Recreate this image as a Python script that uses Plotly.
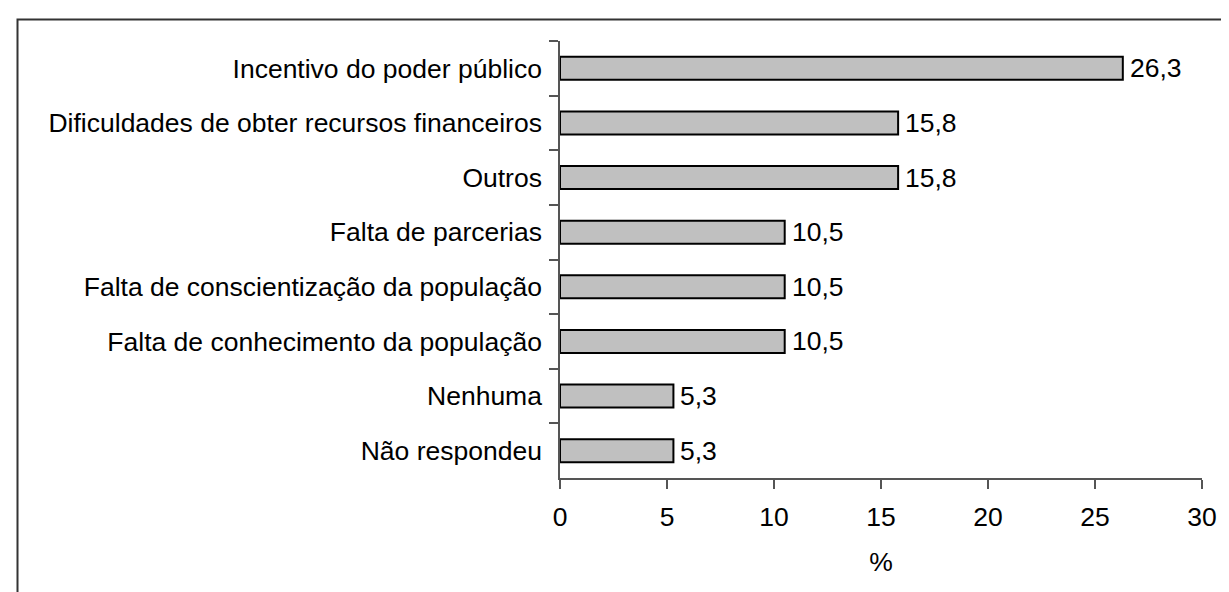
import plotly.graph_objects as go

categories = [
    "Incentivo do poder público",
    "Dificuldades de obter recursos financeiros",
    "Outros",
    "Falta de parcerias",
    "Falta de conscientização da população",
    "Falta de conhecimento da população",
    "Nenhuma",
    "Não respondeu",
]
values = [26.3, 15.8, 15.8, 10.5, 10.5, 10.5, 5.3, 5.3]
x_ticks = [0, 5, 10, 15, 20, 25, 30]
x_title = "%"

W, H = 1229, 592
L, R, T, B = 552, 35, 33, 122
pw, ph = W - L - R, H - T - B

labels = [f"{v:.1f}".replace(".", ",") for v in values]
FONT = "Liberation Sans, Arial, sans-serif"
FS = 26.5

fig = go.Figure(go.Bar(
    y=categories, x=values, orientation="h",
    marker=dict(color="#C0C0C0", line=dict(color="#000000", width=2)),
    hoverinfo="x+y",
))

annotations = [
    dict(x=v, y=c, xref="x", yref="y", text=t, showarrow=False,
         xanchor="left", yanchor="middle", xshift=5,
         font=dict(family=FONT, size=FS, color="#000000"))
    for c, v, t in zip(categories, values, labels)
]

def px_to_paper_x(px):
    return (px - L) / pw

def px_to_paper_y(py):
    return (H - B - py) / ph

fig.update_layout(
    width=W, height=H,
    margin=dict(l=L, r=R, t=T, b=B, pad=0),
    paper_bgcolor="white", plot_bgcolor="white",
    font=dict(family=FONT, size=FS, color="#000000"),
    bargap=0.58,
    showlegend=False,
    annotations=annotations,
    xaxis=dict(
        range=[0, 30], tickvals=x_ticks, ticks="outside", ticklen=9, tickwidth=1.5,
        tickcolor="#555555", showline=True, linecolor="#555555", linewidth=1.5,
        showgrid=False, zeroline=False, ticklabelstandoff=5,
        title=dict(text=x_title, font=dict(family=FONT, size=FS), standoff=22),
        tickfont=dict(family=FONT, size=FS),
    ),
    yaxis=dict(
        categoryorder="array", categoryarray=categories, autorange="reversed",
        ticks="outside", ticklen=9, tickwidth=1.5, tickcolor="#555555",
        tickson="boundaries", showline=True, linecolor="#555555", linewidth=1.5,
        showgrid=False, zeroline=False, ticklabelstandoff=11,
        tickfont=dict(family=FONT, size=FS),
    ),
    shapes=[
        dict(type="path", xref="paper", yref="paper",
             path=f"M {px_to_paper_x(9.5)},{px_to_paper_y(600)} L {px_to_paper_x(9.5)},{px_to_paper_y(11.5)} L {px_to_paper_x(1240)},{px_to_paper_y(11.5)}",
             line=dict(color="#333333", width=2)),
    ],
)

fig.write_html("out.html")
